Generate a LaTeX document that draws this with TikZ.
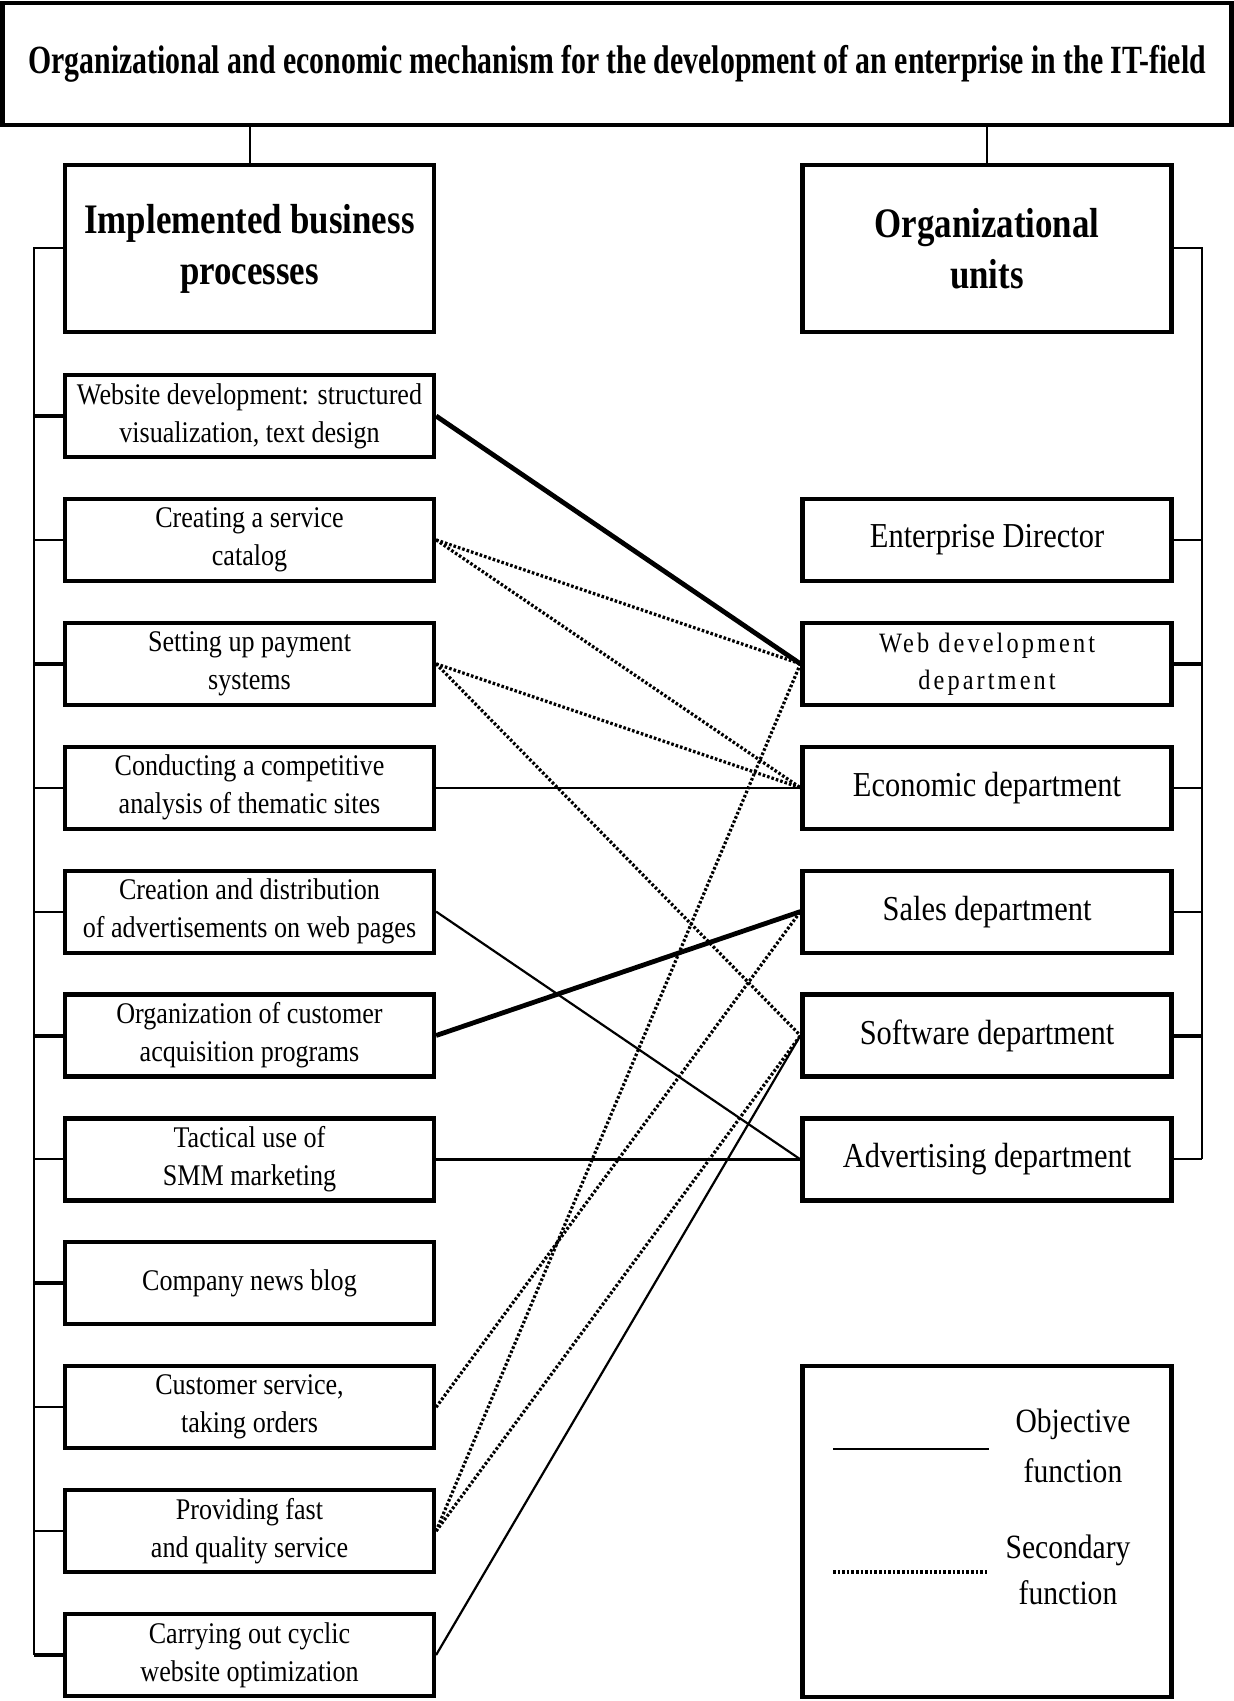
\documentclass[tikz,border=0pt]{standalone}
\usepackage{fontspec}
\setmainfont{Liberation Serif}[FakeStretch=0.87, BoldFeatures={FakeStretch=0.83}]
\newfontfamily\titlefont{Liberation Serif}[FakeStretch=0.745]
\newfontfamily\spacedfont{Liberation Serif}[FakeStretch=0.87, LetterSpace=11]
\usepackage{tikz}
\usetikzlibrary{positioning}
\tikzset{
	every node/.style = {font=\fontsize{15}{19}\selectfont},
	procbox/.style = {draw, line width=2.1pt, align=center, inner sep=0pt,
		minimum width=184.5pt, minimum height=41pt},
	headbox/.style = {procbox, minimum height=83.5pt, font=\fontsize{21}{25.5}\selectfont\bfseries},
	unitbox/.style = {procbox, font=\fontsize{17.5}{21}\selectfont},
	bus/.style = {line width=1pt},
	busthick/.style = {line width=2pt},
	obj/.style = {line width=1.1pt},
	objthick/.style = {line width=2.4pt},
	sec/.style = {line width=1.6pt, dash pattern=on 1.3pt off 1pt}
}

\begin{document}
\begin{tikzpicture}[x=0.5pt, y=-0.5pt]
	\useasboundingbox (0,0) rectangle (1234,1701);

	% title
	\node[procbox, minimum width=614.5pt, minimum height=61pt,
		font=\titlefont\fontsize{20}{24}\selectfont\bfseries] (title) at (617,64)
		{Organizational and economic mechanism for the development of an enterprise in the IT-field};

	% headers
	\node[headbox] (hdrL) at (249.5,248.5) {Implemented business\\processes};
	\node[headbox] (hdrR) at (987,248.5) {Organizational\\units};
	\draw[bus] (hdrL.north) -- (hdrL.north |- title.south);
	\draw[bus] (hdrR.north) -- (hdrR.north |- title.south);

	% business processes
	\foreach \i/\txt in {
		1/{Website development: structured\\visualization, text design},
		2/{Creating a service\\catalog},
		3/{Setting up payment\\systems},
		4/{Conducting a competitive\\analysis of thematic sites},
		5/{Creation and distribution\\of advertisements on web pages},
		6/{Organization of customer\\acquisition programs},
		7/{Tactical use of\\SMM marketing},
		8/{Company news blog},
		9/{Customer service,\\taking orders},
		10/{Providing fast\\and quality service},
		11/{Carrying out cyclic\\website optimization}}
		\node[procbox] (p\i) at (249.5, {416+(\i-1)*123.9}) {\txt};

	% organizational units
	\node[unitbox] (dir) at (p2 -| hdrR) {Enterprise Director};
	\node[unitbox, font=\spacedfont\fontsize{14}{18.5}\selectfont] (web) at (p3 -| hdrR) {Web development\\department};
	\node[unitbox] (eco) at (p4 -| hdrR) {Economic department};
	\node[unitbox] (sales) at (p5 -| hdrR) {Sales department};
	\node[unitbox] (soft) at (p6 -| hdrR) {Software department};
	\node[unitbox] (adv) at (p7 -| hdrR) {Advertising department};

	% left bus
	\coordinate (lbus) at (34,0);
	\draw[bus] (hdrL.west) -- (hdrL.west -| lbus) -- (p11.west -| lbus);
	\foreach \i/\s in {1/busthick, 2/bus, 3/busthick, 4/bus, 5/bus, 6/busthick,
		7/bus, 8/busthick, 9/bus, 10/bus, 11/busthick}
		\draw[\s] (p\i.west) -- (p\i.west -| lbus);

	% right bus
	\coordinate (rbus) at (1202,0);
	\draw[bus] (hdrR.east) -- (hdrR.east -| rbus) -- (adv.east -| rbus);
	\foreach \u/\s in {dir/bus, web/busthick, eco/bus, sales/bus, soft/busthick, adv/bus}
		\draw[\s] (\u.east) -- (\u.east -| rbus);

	% objective functions
	\draw[objthick] (p1.east) -- (web.west);
	\draw[obj] (p4.east) -- (eco.west);
	\draw[obj] (p5.east) -- (adv.west);
	\draw[objthick] (p6.east) -- (sales.west);
	\draw[obj] (p7.east) -- (adv.west);
	\draw[obj] (p11.east) -- (soft.west);

	% secondary functions
	\draw[sec] (p2.east) -- (web.west);
	\draw[sec] (p2.east) -- (eco.west);
	\draw[sec] (p3.east) -- (eco.west);
	\draw[sec] (p3.east) -- (soft.west);
	\draw[sec] (p9.east) -- (sales.west);
	\draw[sec] (p10.east) -- (web.west);
	\draw[sec] (p10.east) -- (soft.west);

	% legend
	\node[procbox, minimum height=165.5pt] (legend) at (987,1531.5) {};
	\coordinate (o1) at (833,1449);
	\coordinate (o2) at (989,1449);
	\coordinate (s1) at (833,1572);
	\coordinate (s2) at (987,1572);
	\draw[obj] (o1) -- (o2);
	\draw[sec] (s1) -- (s2);
	\node[align=center, font=\fontsize{17}{25}\selectfont] (objtxt) at (1073,1446) {Objective\\function};
	\node[align=center, font=\fontsize{17}{23}\selectfont] (sectxt) at (1068,1570) {Secondary\\function};
\end{tikzpicture}
\end{document}
